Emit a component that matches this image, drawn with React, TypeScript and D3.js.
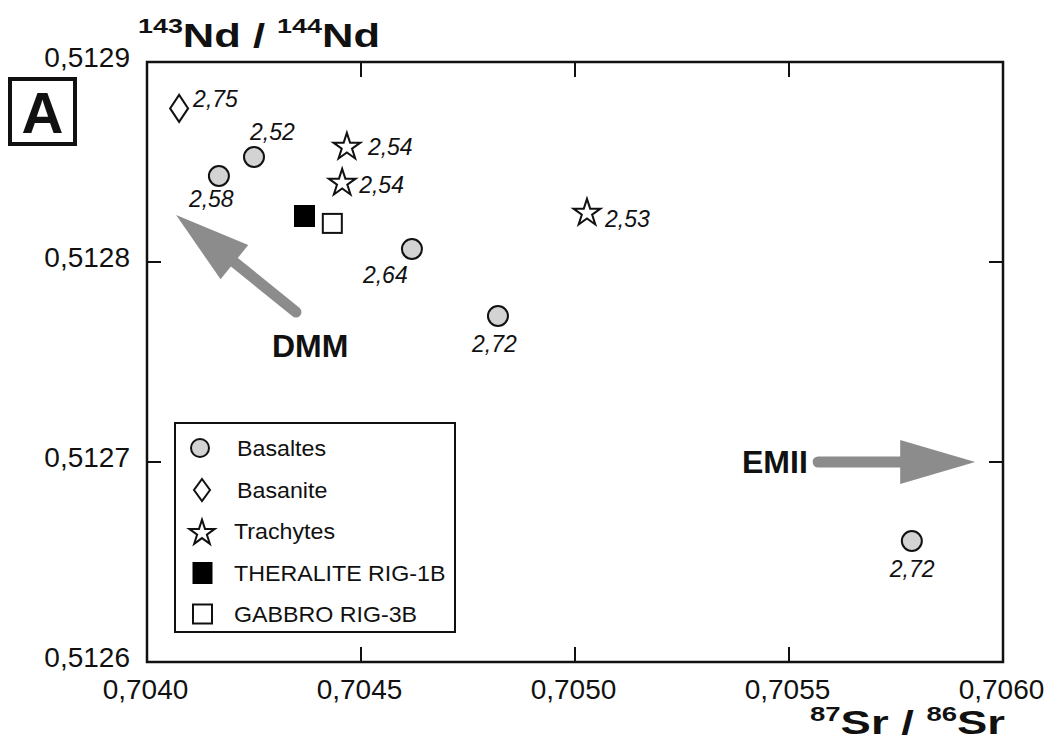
import React from "react";
import * as d3 from "d3";

// ---- Data ----
const basaltX = [0.70425, 0.704168, 0.704619, 0.70482, 0.705787];
const basaltY = [0.5128525, 0.512843, 0.5128065, 0.512773, 0.5126605];
const basaltLabels = ["2,52", "2,58", "2,64", "2,72", "2,72"];

const basaniteX = [0.704075];
const basaniteY = [0.5128768];
const basaniteLabels = ["2,75"];

const trachyteX = [0.704467, 0.704456, 0.705028];
const trachyteY = [0.5128585, 0.5128405, 0.5128255];
const trachyteLabels = ["2,54", "2,54", "2,53"];

const theraliteX = [0.704368];
const theraliteY = [0.512823];

const gabbroX = [0.704433];
const gabbroY = [0.5128193];

const xTicks = [0.704, 0.7045, 0.705, 0.7055, 0.706];
const yTicks = [0.5126, 0.5127, 0.5128, 0.5129];

const legendNames = ["Basaltes", "Basanite", "Trachytes", "THERALITE RIG-1B", "GABBRO RIG-3B"];

// annotation arrows (data coords)
const arrowNames = ["DMM", "EMII"];
const arrowFromX = [0.704348, 0.705568];
const arrowFromY = [0.512775, 0.5127];
const arrowToX = [0.704068, 0.705935];
const arrowToY = [0.5128235, 0.5127];

// ---- Layout (label offsets in px, separate from data) ----
const basaltLabelOff = [[-4, -17], [-30, 31], [-49, 34], [-26, 36], [-22, 36]];
const basaniteLabelOff = [[14, -1]];
const trachyteLabelOff = [[21, 10], [17, 12], [18, 16]];

const W = 1051;
const H = 742;
const left = 147, right = 1003, top = 62, bottom = 662;
const FONT = "'Liberation Sans', Arial, Helvetica, sans-serif";
const GRAY = "#8c8c8c";
const CIRCLE_FILL = "#d3d3d3";

const x = d3.scaleLinear().domain([0.704, 0.706]).range([left, right]);
const y = d3.scaleLinear().domain([0.5126, 0.5129]).range([bottom, top]);
const fmt = (v: number) => d3.format(".4f")(v).replace(".", ",");

const starPath = d3.symbol().type(d3.symbolStar).size(225)()!;
const starPathLegend = d3.symbol().type(d3.symbolStar).size(200)()!;

function diamond(cx: number, cy: number, hw: number, hh: number) {
  const p = d3.path();
  p.moveTo(cx, cy - hh);
  p.lineTo(cx + hw, cy);
  p.lineTo(cx, cy + hh);
  p.lineTo(cx - hw, cy);
  p.closePath();
  return p.toString();
}

function Arrow({ x1, y1, x2, y2 }: { x1: number; y1: number; x2: number; y2: number }) {
  const dx = x2 - x1, dy = y2 - y1;
  const len = Math.hypot(dx, dy);
  const ux = dx / len, uy = dy / len;
  const nx = -uy, ny = ux;
  const L = 75, HW = 22;
  const bx = x2 - ux * L, by = y2 - uy * L;
  const head = d3.path();
  head.moveTo(x2, y2);
  head.lineTo(bx + nx * HW, by + ny * HW);
  head.lineTo(bx - nx * HW, by - ny * HW);
  head.closePath();
  return (
    <g>
      <line x1={x1} y1={y1} x2={bx + ux * 2} y2={by + uy * 2} stroke={GRAY} strokeWidth={11} strokeLinecap="round" />
      <path d={head.toString()} fill={GRAY} />
    </g>
  );
}

export default function App() {
  const labelStyle = { fontFamily: FONT, fontStyle: "italic", fontSize: 23 } as const;
  const legendX = 175, legendY = 423, legendW = 280, legendH = 209;
  const rowY = [448, 490, 531, 573, 614];
  const symX = 202;
  const textX = 236;

  return (
    <svg width={W} height={H} style={{ display: "block", position: "absolute", left: 0, top: 0, background: "#fff" }}>
      <rect x={0} y={0} width={W} height={H} fill="#fff" />

      {/* Frame */}
      <rect x={left} y={top} width={right - left} height={bottom - top} fill="none" stroke="#111" strokeWidth={2.5} />

      {/* Ticks */}
      {xTicks.slice(1, -1).map((t, i) => (
        <g key={"xt" + i}>
          <line x1={x(t)} x2={x(t)} y1={bottom} y2={bottom - 15} stroke="#111" strokeWidth={2} />
          <line x1={x(t)} x2={x(t)} y1={top} y2={top + 15} stroke="#111" strokeWidth={2} />
        </g>
      ))}
      {yTicks.slice(1, -1).map((t, i) => (
        <g key={"yt" + i}>
          <line x1={left} x2={left + 14} y1={y(t)} y2={y(t)} stroke="#111" strokeWidth={2} />
          <line x1={right} x2={right - 14} y1={y(t)} y2={y(t)} stroke="#111" strokeWidth={2} />
        </g>
      ))}

      {/* Tick labels */}
      {xTicks.map((t, i) => (
        <text key={"xl" + i} x={x(t) - 1.5} y={699} textAnchor="middle" fontFamily={FONT} fontSize={28} fill="#111">
          {fmt(t)}
        </text>
      ))}
      {yTicks.map((t, i) => (
        <text key={"yl" + i} x={130} y={y(t) + 5} textAnchor="end" fontFamily={FONT} fontSize={28} fill="#111">
          {fmt(t)}
        </text>
      ))}

      {/* Axis titles */}
      <text x={138} y={47} fontFamily={FONT} fontWeight="bold" fontSize={34} fill="#111" textLength={242} lengthAdjust="spacingAndGlyphs">
        <tspan fontSize={21} dy={-14}>143</tspan>
        <tspan dy={14}>Nd / </tspan>
        <tspan fontSize={21} dy={-14}>144</tspan>
        <tspan dy={14}>Nd</tspan>
      </text>
      <text x={810} y={734} fontFamily={FONT} fontWeight="bold" fontSize={33} fill="#111" textLength={195} lengthAdjust="spacingAndGlyphs">
        <tspan fontSize={20} dy={-13}>87</tspan>
        <tspan dy={13}>Sr / </tspan>
        <tspan fontSize={20} dy={-13}>86</tspan>
        <tspan dy={13}>Sr</tspan>
      </text>

      {/* Panel label */}
      <rect x={10} y={79} width={65} height={65} fill="none" stroke="#111" strokeWidth={4} />
      <text x={42.5} y={133} textAnchor="middle" fontFamily={FONT} fontWeight="bold" fontSize={58} fill="#111">A</text>

      {/* Arrows */}
      {arrowNames.map((n, i) => (
        <Arrow key={n} x1={x(arrowFromX[i])} y1={y(arrowFromY[i])} x2={x(arrowToX[i])} y2={y(arrowToY[i])} />
      ))}
      <text x={272} y={357} fontFamily={FONT} fontWeight="bold" fontSize={32} fill="#111">{arrowNames[0]}</text>
      <text x={742} y={473} fontFamily={FONT} fontWeight="bold" fontSize={32} fill="#111">{arrowNames[1]}</text>

      {/* Basaltes */}
      {basaltX.map((v, i) => (
        <g key={"b" + i}>
          <circle cx={x(v)} cy={y(basaltY[i])} r={10} fill={CIRCLE_FILL} stroke="#111" strokeWidth={2} />
          <text x={x(v) + basaltLabelOff[i][0]} y={y(basaltY[i]) + basaltLabelOff[i][1]} {...labelStyle} fill="#111">
            {basaltLabels[i]}
          </text>
        </g>
      ))}

      {/* Basanite */}
      {basaniteX.map((v, i) => (
        <g key={"bn" + i}>
          <path d={diamond(x(v), y(basaniteY[i]), 9, 13.5)} fill="#fff" stroke="#111" strokeWidth={2} />
          <text x={x(v) + basaniteLabelOff[i][0]} y={y(basaniteY[i]) + basaniteLabelOff[i][1]} {...labelStyle} fill="#111">
            {basaniteLabels[i]}
          </text>
        </g>
      ))}

      {/* Trachytes */}
      {trachyteX.map((v, i) => (
        <g key={"t" + i}>
          <path d={starPath} transform={`translate(${x(v)},${y(trachyteY[i]) + 2})`} fill="#fff" stroke="#111" strokeWidth={2} />
          <text x={x(v) + trachyteLabelOff[i][0]} y={y(trachyteY[i]) + trachyteLabelOff[i][1]} {...labelStyle} fill="#111">
            {trachyteLabels[i]}
          </text>
        </g>
      ))}

      {/* Theralite */}
      {theraliteX.map((v, i) => (
        <rect key={"th" + i} x={x(v) - 10.5} y={y(theraliteY[i]) - 11} width={21} height={22} fill="#000" />
      ))}

      {/* Gabbro */}
      {gabbroX.map((v, i) => (
        <rect key={"g" + i} x={x(v) - 9.5} y={y(gabbroY[i]) - 9.5} width={19} height={19} fill="#fff" stroke="#111" strokeWidth={2} />
      ))}

      {/* Legend */}
      <rect x={legendX} y={legendY} width={legendW} height={legendH} fill="#fff" stroke="#111" strokeWidth={2} />
      <circle cx={symX - 2} cy={rowY[0]} r={9} fill={CIRCLE_FILL} stroke="#111" strokeWidth={2} />
      <path d={diamond(symX, rowY[1], 8, 11)} fill="#fff" stroke="#111" strokeWidth={2} />
      <path d={starPathLegend} transform={`translate(${symX},${rowY[2] + 2})`} fill="#fff" stroke="#111" strokeWidth={2} />
      <rect x={symX - 9.5} y={rowY[3] - 11} width={20} height={22} fill="#000" />
      <rect x={symX - 9} y={rowY[4] - 9.5} width={19} height={19} fill="#fff" stroke="#111" strokeWidth={2} />
      {legendNames.map((n, i) => (
        <text
          key={"ln" + i}
          transform={`translate(${textX + (i === 0 || i === 1 ? 1 : -2)},${rowY[i] + 7.5}) scale(1.08,1)`}
          fontFamily={FONT}
          fontSize={21.5}
          fill="#111"
        >
          {n}
        </text>
      ))}
    </svg>
  );
}
